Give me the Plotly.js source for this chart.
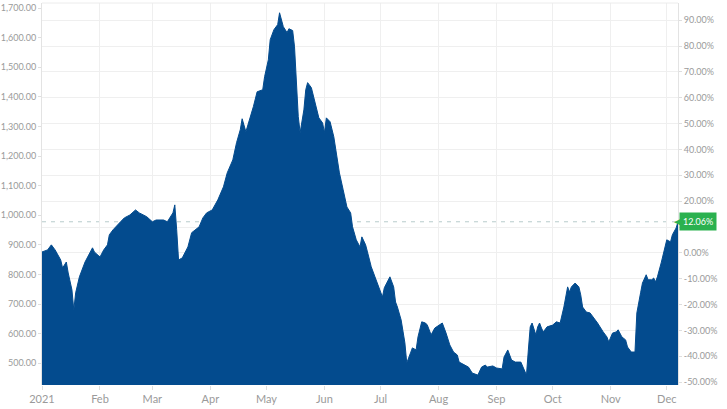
<!DOCTYPE html>
<html>
<head>
<meta charset="utf-8">
<script src="https://cdn.plot.ly/plotly-3.0.1.min.js"></script>
<style>html,body{margin:0;padding:0;background:#fff;}#chart{width:727px;height:409px;}</style>
</head>
<body>
<div id="chart"></div>
<script>
// ---- data ----
const dates = [
'2021-01-01','2021-01-04','2021-01-06','2021-01-08','2021-01-11','2021-01-12','2021-01-14','2021-01-15','2021-01-17','2021-01-18',
'2021-01-19','2021-01-21','2021-01-24','2021-01-28','2021-01-29','2021-02-01','2021-02-03','2021-02-05','2021-02-06','2021-02-08',
'2021-02-12','2021-02-14','2021-02-17','2021-02-20','2021-02-22','2021-02-26','2021-03-01','2021-03-03','2021-03-07','2021-03-09',
'2021-03-12','2021-03-13','2021-03-14','2021-03-15','2021-03-17','2021-03-20','2021-03-22','2021-03-25','2021-03-26','2021-03-28',
'2021-03-30','2021-04-02','2021-04-05','2021-04-08','2021-04-10','2021-04-13','2021-04-15','2021-04-17','2021-04-18','2021-04-20',
'2021-04-22','2021-04-24','2021-04-26','2021-04-29','2021-04-30','2021-05-02','2021-05-03','2021-05-05','2021-05-07','2021-05-08',
'2021-05-10','2021-05-11','2021-05-12','2021-05-13','2021-05-15','2021-05-16','2021-05-17','2021-05-18','2021-05-19','2021-05-21',
'2021-05-22','2021-05-23','2021-05-25','2021-05-27','2021-05-29','2021-05-31','2021-06-01','2021-06-02','2021-06-04','2021-06-06',
'2021-06-08','2021-06-09','2021-06-11','2021-06-13','2021-06-15','2021-06-16','2021-06-18','2021-06-20','2021-06-21','2021-06-23',
'2021-06-24','2021-06-26','2021-06-28','2021-06-30','2021-07-02','2021-07-03','2021-07-06','2021-07-08','2021-07-09','2021-07-10',
'2021-07-12','2021-07-14','2021-07-15','2021-07-17','2021-07-18','2021-07-20','2021-07-21','2021-07-23','2021-07-25','2021-07-26',
'2021-07-28','2021-07-30','2021-08-01','2021-08-03','2021-08-05','2021-08-07','2021-08-09','2021-08-11','2021-08-12','2021-08-15',
'2021-08-17','2021-08-19','2021-08-20','2021-08-22','2021-08-24','2021-08-26','2021-08-27','2021-08-30','2021-09-01','2021-09-04',
'2021-09-05','2021-09-07','2021-09-09','2021-09-11','2021-09-14','2021-09-15','2021-09-17','2021-09-18','2021-09-19','2021-09-20',
'2021-09-22','2021-09-23','2021-09-24','2021-09-25','2021-09-26','2021-09-28','2021-10-01','2021-10-03','2021-10-05','2021-10-07',
'2021-10-08','2021-10-09','2021-10-10','2021-10-11','2021-10-13','2021-10-15','2021-10-16','2021-10-17','2021-10-19','2021-10-21',
'2021-10-23','2021-10-25','2021-10-28','2021-10-30','2021-10-31','2021-11-02','2021-11-04','2021-11-05','2021-11-07','2021-11-09',
'2021-11-10','2021-11-12','2021-11-14','2021-11-15','2021-11-17','2021-11-18','2021-11-20','2021-11-21','2021-11-23','2021-11-24',
'2021-11-25','2021-11-26','2021-11-28','2021-11-30','2021-12-01','2021-12-03','2021-12-04','2021-12-06','2021-12-07'
];
const prices = [
876,883,900,883,849,822,842,805,748,680,
738,792,842,890,876,859,883,900,934,951,
978,991,1001,1018,1008,995,978,984,984,978,
1008,1035,951,849,856,893,941,957,961,991,
1008,1018,1052,1096,1143,1187,1245,1289,1326,1282,
1323,1367,1417,1424,1468,1525,1593,1627,1644,1684,
1637,1627,1617,1630,1624,1569,1448,1333,1279,1356,
1424,1448,1431,1380,1329,1312,1279,1329,1316,1265,
1187,1143,1086,1028,1008,961,917,893,927,900,
876,826,792,758,724,755,792,758,707,690,
646,569,501,535,552,545,589,640,636,629,
596,619,629,636,602,562,538,528,504,494,
487,467,464,460,487,494,487,491,484,481,
521,545,511,504,504,487,460,545,623,636,
596,623,636,619,606,623,629,640,636,690,
724,758,741,758,771,758,731,690,673,670,
653,636,606,589,572,602,606,613,589,579,
555,538,538,670,738,771,799,782,782,788,
775,792,839,893,917,910,934,957,978
];
const tickDates = ['2021-01-01','2021-02-01','2021-03-01','2021-04-01','2021-05-01','2021-06-01','2021-07-01','2021-08-01','2021-09-01','2021-10-01','2021-11-01','2021-12-01'];
const tickLabels = ['2021','Feb','Mar','Apr','May','Jun','Jul','Aug','Sep','Oct','Nov','Dec'];
const priceTicks = [500,600,700,800,900,1000,1100,1200,1300,1400,1500,1600,1700];
const pctTicks = [-0.5,-0.4,-0.3,-0.2,-0.1,0,0.1,0.2,0.3,0.4,0.5,0.6,0.7,0.8,0.9];
const pctLabels = ['-50.00%','-40.00%','-30.00%','-20.00%','-10.00%','0.00%','','20.00%','30.00%','40.00%','50.00%','60.00%','70.00%','80.00%','90.00%'];
const basePrice = 873;
const changeLabel = '12.06%';

// ---- chart ----
const yMin = 426.6, yMax = 1717;
const lastPrice = prices[prices.length - 1];
const FONT = 'Lato, "Open Sans", sans-serif';
const green = '#2bb14f';

// invisible companion trace so that the percent axis is built
const pctTrace = {
  x: dates, y: prices.map(p => p / basePrice - 1), type: 'scatter', mode: 'lines',
  line: {color: 'rgba(0,0,0,0)', width: 0}, yaxis: 'y', hoverinfo: 'skip'
};
const trace = {
  x: dates, y: prices, type: 'scatter', mode: 'lines',
  fill: 'tozeroy', fillcolor: '#034b8e',
  line: {color: '#034b8e', width: 1},
  yaxis: 'y2', hoverinfo: 'skip'
};

const layout = {
  width: 727, height: 409,
  margin: {l: 42, r: 49, t: 3, b: 24, pad: 0},
  paper_bgcolor: '#fff', plot_bgcolor: '#fff',
  showlegend: false,
  font: {family: FONT, color: '#9a9a9a'},
  xaxis: {
    type: 'date', range: ['2021-01-01', '2021-12-07'],
    tickmode: 'array', tickvals: tickDates, ticktext: tickLabels,
    showgrid: true, gridcolor: '#efefef', gridwidth: 1,
    ticks: 'outside', ticklen: 4, tickcolor: '#dedede',
    tickfont: {size: 11, color: '#9a9a9a', family: FONT},
    showline: false, zeroline: false, fixedrange: true
  },
  yaxis: {
    side: 'right', range: [yMin / basePrice - 1, yMax / basePrice - 1],
    tickmode: 'array', tickvals: pctTicks, ticktext: pctLabels,
    showgrid: true, gridcolor: '#efefef', gridwidth: 1,
    ticks: 'outside', ticklen: 3, tickcolor: '#dedede',
    tickfont: {size: 9, color: '#9a9a9a', family: FONT},
    showline: true, linecolor: '#e3e3e3', linewidth: 1,
    zeroline: false, fixedrange: true
  },
  yaxis2: {
    overlaying: 'y', side: 'left', range: [yMin, yMax],
    tickmode: 'array', tickvals: priceTicks, tickformat: ',.2f',
    showgrid: false,
    ticks: 'outside', ticklen: 3, tickcolor: '#dedede',
    tickfont: {size: 9, color: '#9a9a9a', family: FONT},
    showline: true, linecolor: '#e3e3e3', linewidth: 1,
    zeroline: false, fixedrange: true
  },
  shapes: [
    {type: 'line', xref: 'paper', x0: 0, x1: 1, yref: 'y2', y0: lastPrice, y1: lastPrice,
     line: {color: '#b7cccc', width: 1, dash: '4px,5px'}, layer: 'below'},
    {type: 'line', xref: 'paper', x0: 0, x1: 1, yref: 'paper', y0: 1, y1: 1,
     line: {color: '#ececec', width: 1}}
  ],
  annotations: [
    {xref: 'paper', x: 1, xanchor: 'left', xshift: 1, yref: 'y2', y: lastPrice, yanchor: 'middle',
     text: changeLabel, showarrow: false, bgcolor: green, borderpad: 3,
     font: {size: 9, color: '#ffffff', family: FONT}},
    {xref: 'paper', x: 1, xanchor: 'center', xshift: 0, yref: 'y2', y: lastPrice, yanchor: 'middle',
     text: '◀', showarrow: false, font: {size: 11, color: green, family: 'DejaVu Sans'}}
  ]
};

Plotly.newPlot('chart', [pctTrace, trace], layout, {staticPlot: true, displayModeBar: false});
</script>
</body>
</html>
